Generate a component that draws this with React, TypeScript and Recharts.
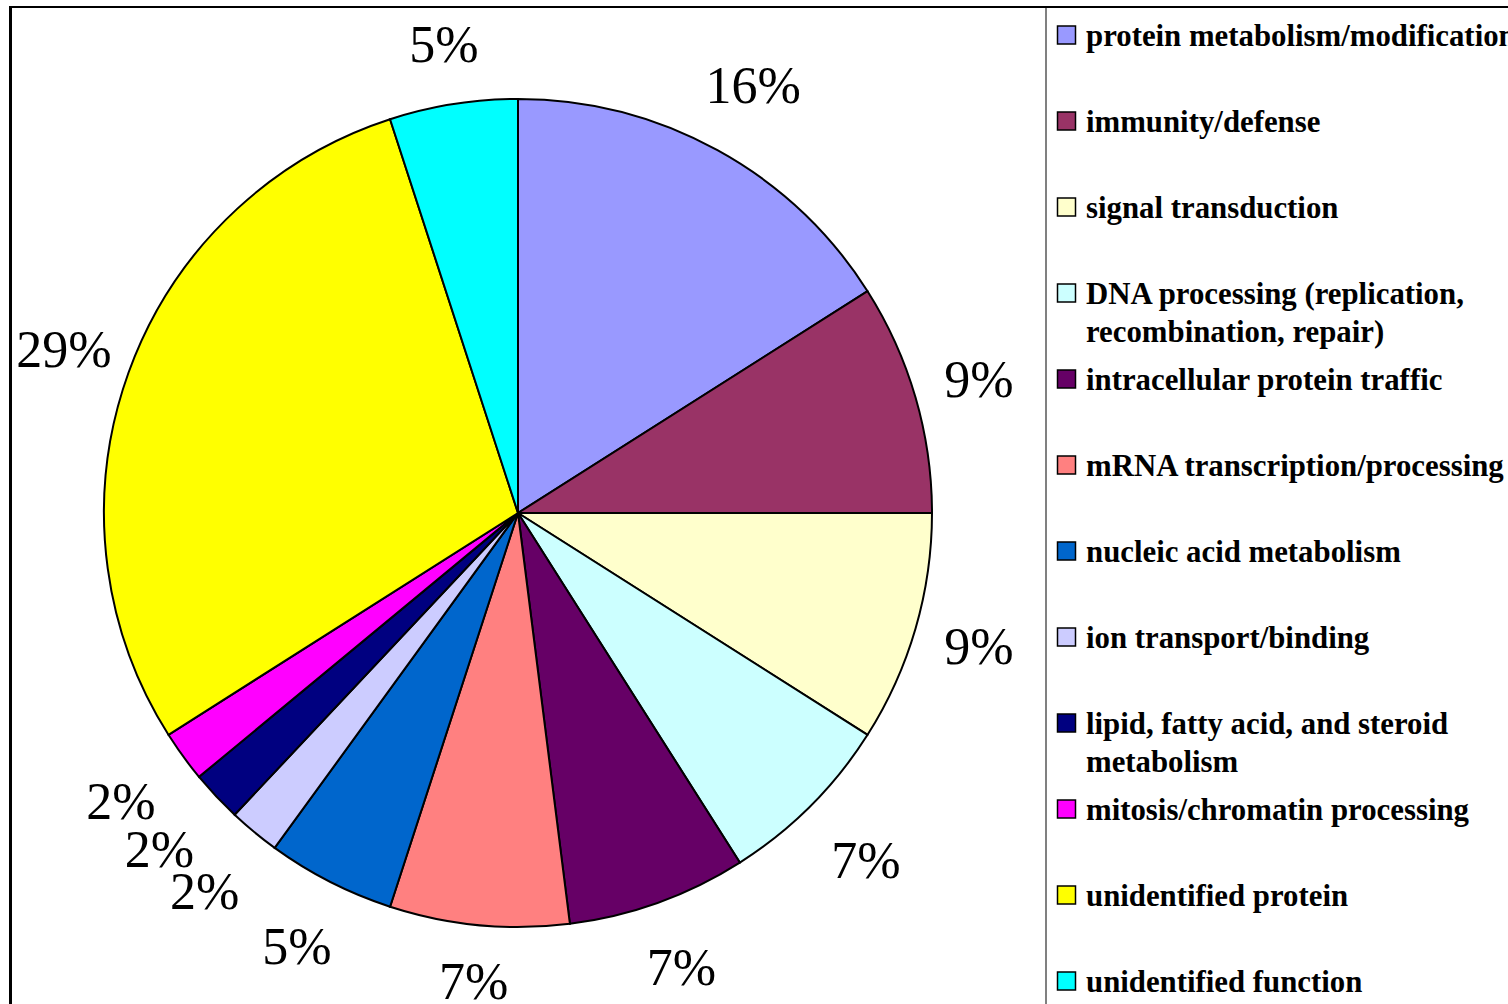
import React from 'react';
import { PieChart, Pie, Cell, Legend } from 'recharts';

// Functional categories and their share of the proteins (percent)
const categories = [
  'protein metabolism/modification',
  'immunity/defense',
  'signal transduction',
  'DNA processing (replication, recombination, repair)',
  'intracellular protein traffic',
  'mRNA transcription/processing',
  'nucleic acid metabolism',
  'ion transport/binding',
  'lipid, fatty acid, and steroid metabolism',
  'mitosis/chromatin processing',
  'unidentified protein',
  'unidentified function',
];

const percentages = [16, 9, 9, 7, 7, 7, 5, 2, 2, 2, 29, 5];

const sliceColors = [
  '#9999FF',
  '#993366',
  '#FFFFCC',
  '#CCFFFF',
  '#660066',
  '#FF8080',
  '#0066CC',
  '#CCCCFF',
  '#000080',
  '#FF00FF',
  '#FFFF00',
  '#00FFFF',
];

const data = categories.map((name, i) => ({ name, value: percentages[i] }));

const RAD = Math.PI / 180;
const SERIF = '"Liberation Serif", "Times New Roman", serif';

// Break a legend label into lines of at most maxChars characters
function wrapWords(text: string, maxChars: number): string[] {
  const words = text.split(' ');
  const lines: string[] = [];
  let cur = '';
  for (const w of words) {
    const next = cur ? cur + ' ' + w : w;
    if (next.length > maxChars && cur) {
      lines.push(cur);
      cur = w;
    } else {
      cur = next;
    }
  }
  if (cur) lines.push(cur);
  return lines;
}

// Percent labels sit outside the rim; diagonal labels are pushed a little
// further out so their boxes clear the circle.
const renderLabel = (props: any) => {
  const { cx, cy, midAngle, outerRadius, value } = props;
  const r = outerRadius + 52 + 26 * Math.abs(Math.sin(2 * midAngle * RAD));
  const x = cx + r * Math.cos(-midAngle * RAD);
  const y = cy + r * Math.sin(-midAngle * RAD);
  return (
    <text
      x={x}
      y={y}
      textAnchor="middle"
      dominantBaseline="central"
      fontFamily={SERIF}
      fontSize={52}
      fill="#000"
    >
      {`${value}%`}
    </text>
  );
};

const ROW_STEP = 86;
const LINE_STEP = 38;

const renderLegend = () => (
  <svg width={462} height={1004} style={{ display: 'block' }}>
    {categories.map((name, i) => {
      const top = 26 + i * ROW_STEP;
      const lines = wrapWords(name, 32);
      return (
        <g key={name}>
          <rect
            x={11.5}
            y={top}
            width={18}
            height={18}
            fill={sliceColors[i]}
            stroke="#000"
            strokeWidth={1.5}
          />
          <text
            x={40}
            y={top + 20}
            fontFamily={SERIF}
            fontWeight="bold"
            fontSize={30.8}
            fill="#000"
          >
            {lines.map((ln, j) => (
              <tspan key={j} x={40} dy={j === 0 ? 0 : LINE_STEP}>
                {ln}
              </tspan>
            ))}
          </text>
        </g>
      );
    })}
  </svg>
);

export default function App() {
  return (
    <div
      style={{
        position: 'absolute',
        left: 0,
        top: 0,
        width: 1508,
        height: 1004,
        overflow: 'hidden',
        background: '#fff',
      }}
    >
      {/* plot frame: top and left edges */}
      <div
        style={{
          position: 'absolute',
          left: 9,
          top: 6,
          width: 1600,
          height: 1100,
          borderTop: '2px solid #000',
          borderLeft: '3px solid #000',
        }}
      />
      {/* legend frame edge */}
      <div
        style={{
          position: 'absolute',
          left: 1045,
          top: 8,
          width: 2,
          height: 1000,
          background: '#808080',
        }}
      />
      <div style={{ position: 'absolute', left: 0, top: 0 }}>
        <PieChart width={1508} height={1004} margin={{ top: 0, right: 0, bottom: 0, left: 0 }}>
          <Pie
            data={data}
            dataKey="value"
            nameKey="name"
            cx={518}
            cy={513}
            outerRadius={414}
            startAngle={90}
            endAngle={-270}
            stroke="#000"
            strokeWidth={2}
            label={renderLabel}
            labelLine={false}
            isAnimationActive={false}
          >
            {data.map((d, i) => (
              <Cell key={d.name} fill={sliceColors[i]} />
            ))}
          </Pie>
          <Legend
            layout="vertical"
            align="right"
            verticalAlign="top"
            content={renderLegend}
            wrapperStyle={{ position: 'absolute', left: 1046, top: 0, width: 462, height: 1004 }}
          />
        </PieChart>
      </div>
    </div>
  );
}
